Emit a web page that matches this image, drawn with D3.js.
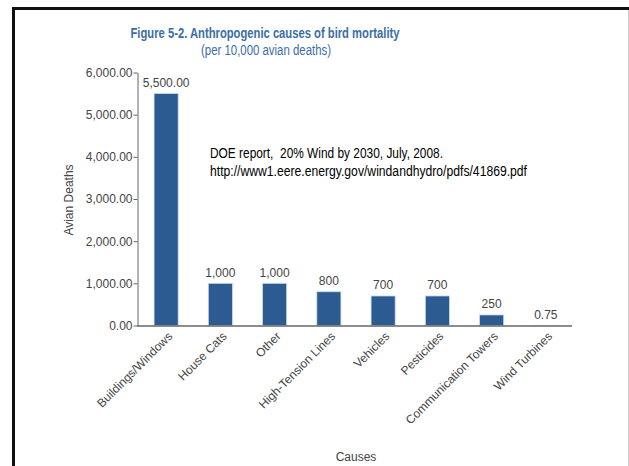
<!DOCTYPE html>
<html>
<head>
<meta charset="utf-8">
<script src="https://cdn.jsdelivr.net/npm/d3@7"></script>
<style>
  html, body { margin: 0; padding: 0; background: #fff; }
  svg { display: block; font-family: "Liberation Sans", Arial, sans-serif; }
</style>
</head>
<body>
<svg id="chart" width="629" height="466"></svg>
<script>
// Bird mortality by anthropogenic cause (per 10,000 avian deaths)
const causes = ["Buildings/Windows", "House Cats", "Other", "High-Tension Lines",
                "Vehicles", "Pesticides", "Communication Towers", "Wind Turbines"];
const deaths = [5500, 1000, 1000, 800, 700, 700, 250, 0.75];
const valueLabels = ["5,500.00", "1,000", "1,000", "800", "700", "700", "250", "0.75"];
const yTicks = [0, 1000, 2000, 3000, 4000, 5000, 6000];

const titleText = "Figure 5-2. Anthropogenic causes of bird mortality";
const subtitleText = "(per 10,000 avian deaths)";
const noteLines = ["DOE report,  20% Wind by 2030, July, 2008.",
                   "http://www1.eere.energy.gov/windandhydro/pdfs/41869.pdf"];
const noteWidths = [233, 317];

const svg = d3.select("#chart");

// slide frame: heavy black top/left edge, faint right edge
svg.append("line").attr("x1", 13.5).attr("y1", 8.5).attr("x2", 629).attr("y2", 8.5)
  .attr("stroke", "#111").attr("stroke-width", 3);
svg.append("line").attr("x1", 13.5).attr("y1", 7).attr("x2", 13.5).attr("y2", 466)
  .attr("stroke", "#111").attr("stroke-width", 3);
svg.append("line").attr("x1", 628.5).attr("y1", 10).attr("x2", 628.5).attr("y2", 466)
  .attr("stroke", "#ccc").attr("stroke-width", 1);

const x = d3.scaleBand().domain(causes).range([139, 573])
  .paddingInner(0.556).paddingOuter(0.278);
const y = d3.scaleLinear().domain([0, 6000]).range([325.5, 72.5]);

const axisColor = "#666";
const textColor = "#444";

// y axis
const yAxis = svg.append("g").attr("transform", "translate(137.5,0)")
  .call(d3.axisLeft(y).tickValues(yTicks).tickSize(4).tickSizeOuter(0)
    .tickFormat(d3.format(",.2f")));
yAxis.select(".domain").attr("stroke", axisColor);
yAxis.selectAll(".tick line").attr("stroke", axisColor);
yAxis.selectAll(".tick text").attr("fill", textColor).attr("font-size", 12)
  .attr("font-family", "Liberation Sans, Arial, sans-serif").attr("x", -5);

// bars
svg.append("g").selectAll("rect").data(causes).join("rect")
  .attr("x", d => x(d))
  .attr("y", (d, i) => y(deaths[i]))
  .attr("width", x.bandwidth())
  .attr("height", (d, i) => y(0) - y(deaths[i]))
  .attr("fill", "#2b5b90")
  .attr("stroke", "#c9d8ea")
  .attr("stroke-width", 0.8);

// x axis
const xAxis = svg.append("g").attr("transform", `translate(0,${y(0) + 0.5})`)
  .call(d3.axisBottom(x).tickSize(0).tickSizeOuter(0));
xAxis.select(".domain").attr("stroke", axisColor).attr("stroke-width", 1.5)
  .attr("d", "M137,0H572");
xAxis.selectAll(".tick text")
  .attr("fill", textColor).attr("font-size", 12)
  .attr("font-family", "Liberation Sans, Arial, sans-serif")
  .attr("text-anchor", "end")
  .attr("x", 0).attr("y", 0).attr("dy", 0)
  .attr("transform", "translate(7,11) rotate(-45)");

// value labels
svg.append("g").selectAll("text").data(causes).join("text")
  .attr("x", d => x(d) + x.bandwidth() / 2)
  .attr("y", (d, i) => y(deaths[i]) - 6.5)
  .attr("text-anchor", "middle")
  .attr("fill", textColor).attr("font-size", 12)
  .text((d, i) => valueLabels[i]);

// axis titles
svg.append("text").attr("transform", "translate(73,200) rotate(-90)")
  .attr("text-anchor", "middle").attr("fill", textColor).attr("font-size", 12)
  .text("Avian Deaths");
svg.append("text").attr("x", 356).attr("y", 461)
  .attr("text-anchor", "middle").attr("fill", textColor).attr("font-size", 12)
  .text("Causes");

// title block
svg.append("text").attr("x", 265).attr("y", 38)
  .attr("text-anchor", "middle").attr("fill", "#3b6ea6")
  .attr("font-size", 15).attr("font-weight", "bold")
  .attr("textLength", 269).attr("lengthAdjust", "spacingAndGlyphs")
  .text(titleText);
svg.append("text").attr("x", 266).attr("y", 55)
  .attr("text-anchor", "middle").attr("fill", "#3b6ea6")
  .attr("font-size", 14)
  .attr("textLength", 130).attr("lengthAdjust", "spacingAndGlyphs")
  .text(subtitleText);

// source note
svg.append("g").selectAll("text").data(noteLines).join("text")
  .attr("x", 210).attr("y", (d, i) => 158 + i * 18)
  .attr("fill", "#000").attr("font-size", 14)
  .attr("textLength", (d, i) => noteWidths[i])
  .attr("lengthAdjust", "spacingAndGlyphs")
  .style("white-space", "pre")
  .text(d => d);
</script>
</body>
</html>
